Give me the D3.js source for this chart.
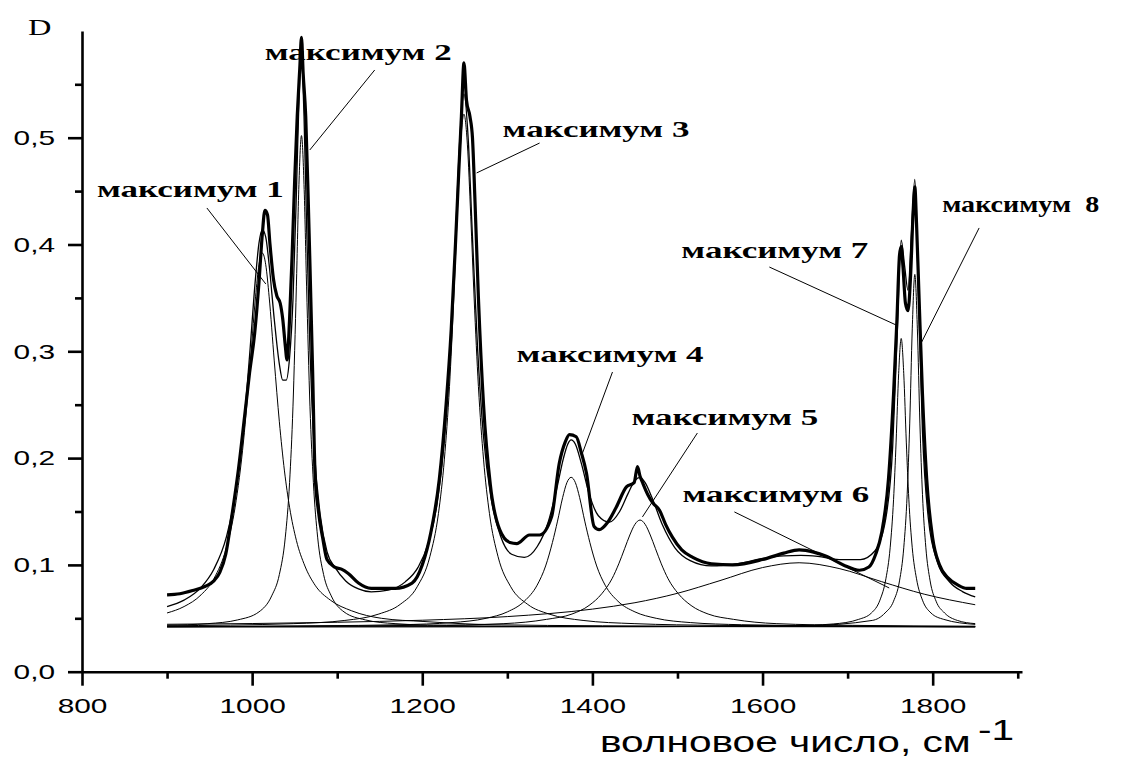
<!DOCTYPE html>
<html>
<head>
<meta charset="utf-8">
<script src="https://cdn.jsdelivr.net/npm/d3@7"></script>
<style>
  body { margin: 0; background: #fff; }
  text { fill: #000; }
</style>
</head>
<body>
<div id="chart"></div>
<script>

// ---- data ----

// measured spectrum (thick line)
var wnMeasured = [900, 915, 930, 945, 955, 962, 969, 976, 984, 991, 997, 1003, 1008, 1012, 1015, 1018, 1021, 1025, 1029, 1033, 1036, 1039, 1041, 1044, 1047, 1050, 1053, 1056, 1058, 1060, 1063, 1066, 1068, 1071, 1074, 1078, 1083, 1088, 1097, 1105, 1113, 1125, 1140, 1168, 1188, 1200, 1210, 1220, 1228, 1234, 1239, 1243, 1246, 1249, 1252, 1256, 1259, 1262, 1266, 1272, 1280, 1291, 1303, 1311, 1326, 1338, 1352, 1361, 1368, 1373, 1381, 1387, 1393, 1402, 1408, 1418, 1428, 1440, 1449, 1453, 1456, 1459, 1465, 1471, 1479, 1486, 1494, 1505, 1518, 1540, 1565, 1600, 1625, 1643, 1660, 1675, 1695, 1714, 1725, 1733, 1740, 1748, 1754, 1758, 1761, 1763, 1765, 1768, 1771, 1774, 1777, 1779, 1781, 1784, 1788, 1793, 1800, 1808, 1818, 1830, 1840, 1850]
var dMeasured = [0.072, 0.073, 0.076, 0.080, 0.085, 0.093, 0.110, 0.145, 0.190, 0.238, 0.280, 0.317, 0.364, 0.410, 0.432, 0.428, 0.400, 0.368, 0.352, 0.345, 0.330, 0.305, 0.292, 0.330, 0.390, 0.460, 0.520, 0.565, 0.594, 0.560, 0.520, 0.440, 0.380, 0.285, 0.185, 0.150, 0.125, 0.105, 0.098, 0.096, 0.092, 0.083, 0.078, 0.078, 0.083, 0.100, 0.130, 0.180, 0.250, 0.320, 0.400, 0.470, 0.520, 0.570, 0.535, 0.520, 0.500, 0.440, 0.350, 0.250, 0.175, 0.133, 0.121, 0.120, 0.128, 0.128, 0.145, 0.195, 0.215, 0.222, 0.220, 0.205, 0.186, 0.136, 0.133, 0.140, 0.154, 0.173, 0.177, 0.192, 0.183, 0.177, 0.166, 0.158, 0.151, 0.138, 0.126, 0.114, 0.107, 0.101, 0.100, 0.105, 0.111, 0.114, 0.112, 0.108, 0.100, 0.095, 0.098, 0.110, 0.130, 0.180, 0.260, 0.330, 0.390, 0.398, 0.380, 0.345, 0.338, 0.370, 0.430, 0.454, 0.420, 0.350, 0.260, 0.180, 0.125, 0.100, 0.088, 0.081, 0.078, 0.078]

// fitted envelope (thin line following the spectrum)
var wnFit = [900, 920, 940, 955, 970, 980, 990, 997, 1004, 1008, 1012, 1016, 1020, 1026, 1032, 1036, 1040, 1044, 1048, 1052, 1055, 1058, 1061, 1064, 1068, 1073, 1080, 1088, 1098, 1110, 1125, 1140, 1160, 1180, 1195, 1207, 1217, 1226, 1233, 1239, 1244, 1249, 1254, 1259, 1265, 1272, 1281, 1292, 1305, 1320, 1335, 1348, 1358, 1366, 1371, 1375, 1380, 1387, 1396, 1407, 1420, 1432, 1442, 1450, 1456, 1462, 1470, 1482, 1497, 1515, 1540, 1570, 1600, 1625, 1645, 1665, 1690, 1715, 1732, 1745, 1753, 1758, 1763, 1767, 1771, 1775, 1779, 1783, 1788, 1795, 1805, 1820, 1835, 1850]
var dFit = [0.061, 0.067, 0.079, 0.096, 0.127, 0.165, 0.230, 0.296, 0.369, 0.401, 0.414, 0.407, 0.381, 0.330, 0.288, 0.273, 0.273, 0.294, 0.348, 0.447, 0.534, 0.573, 0.520, 0.419, 0.300, 0.209, 0.147, 0.1125, 0.097, 0.085, 0.0775, 0.0747, 0.0763, 0.0841, 0.0977, 0.120, 0.155, 0.216, 0.300, 0.405, 0.497, 0.541, 0.499, 0.407, 0.303, 0.220, 0.162, 0.127, 0.110, 0.107, 0.117, 0.140, 0.171, 0.200, 0.213, 0.217, 0.213, 0.195, 0.167, 0.146, 0.140, 0.150, 0.167, 0.179, 0.182, 0.177, 0.163, 0.138, 0.116, 0.104, 0.099, 0.101, 0.106, 0.1085, 0.109, 0.108, 0.105, 0.105, 0.113, 0.144, 0.211, 0.310, 0.404, 0.380, 0.357, 0.410, 0.461, 0.363, 0.225, 0.143, 0.104, 0.084, 0.075, 0.070]

// the eight component bands, [wavenumber, D]
var band1 = [[900, 0.055], [920, 0.061], [940, 0.072], [955, 0.087], [970, 0.117], [980, 0.154], [990, 0.217], [997, 0.281], [1004, 0.351], [1008, 0.381], [1012, 0.392], [1016, 0.381], [1020, 0.351], [1026, 0.291], [1032, 0.234], [1038, 0.188], [1044, 0.154], [1052, 0.123], [1062, 0.099], [1074, 0.081], [1092, 0.067], [1117, 0.057], [1152, 0.050], [1202, 0.047], [1282, 0.044], [1412, 0.043], [1612, 0.0425], [1850, 0.042]]
var band2 = [[900, 0.0435], [948, 0.045], [983, 0.0485], [1008, 0.056], [1023, 0.071], [1032, 0.091], [1039, 0.126], [1044, 0.177], [1048, 0.248], [1052, 0.361], [1055, 0.456], [1058, 0.502], [1061, 0.456], [1064, 0.361], [1068, 0.248], [1072, 0.177], [1077, 0.126], [1084, 0.091], [1093, 0.071], [1108, 0.056], [1133, 0.0485], [1168, 0.045], [1228, 0.0433], [1358, 0.0424], [1850, 0.042]]
var band3 = [[900, 0.043], [1049, 0.045], [1109, 0.048], [1149, 0.054], [1174, 0.063], [1194, 0.0795], [1209, 0.108], [1219, 0.148], [1226, 0.199], [1232, 0.267], [1237, 0.349], [1241, 0.426], [1245, 0.494], [1249, 0.522], [1253, 0.494], [1257, 0.426], [1261, 0.349], [1266, 0.267], [1272, 0.199], [1279, 0.148], [1289, 0.108], [1304, 0.0795], [1324, 0.063], [1349, 0.054], [1389, 0.048], [1449, 0.045], [1549, 0.0434], [1850, 0.0423]]
var band4 = [[900, 0.042], [1075, 0.043], [1175, 0.044], [1235, 0.046], [1275, 0.050], [1300, 0.056], [1320, 0.066], [1335, 0.081], [1345, 0.099], [1353, 0.121], [1359, 0.141], [1365, 0.163], [1370, 0.177], [1375, 0.182], [1380, 0.177], [1385, 0.163], [1391, 0.141], [1397, 0.121], [1405, 0.099], [1415, 0.081], [1430, 0.066], [1450, 0.056], [1475, 0.050], [1515, 0.046], [1575, 0.044], [1675, 0.043], [1850, 0.042]]
var band5 = [[900, 0.0423], [1206, 0.0434], [1296, 0.045], [1346, 0.049], [1376, 0.054], [1396, 0.062], [1411, 0.073], [1423, 0.087], [1431, 0.101], [1438, 0.1155], [1444, 0.128], [1450, 0.138], [1456, 0.142], [1462, 0.138], [1468, 0.128], [1474, 0.1155], [1481, 0.101], [1489, 0.087], [1501, 0.073], [1516, 0.062], [1536, 0.054], [1566, 0.049], [1616, 0.045], [1706, 0.0434], [1850, 0.0426]]
var band6 = [[900, 0.0444], [1000, 0.0451], [1100, 0.0463], [1200, 0.0482], [1300, 0.0516], [1400, 0.0586], [1450, 0.0646], [1500, 0.0734], [1550, 0.0853], [1600, 0.0975], [1643, 0.102], [1690, 0.0966], [1740, 0.0843], [1790, 0.0726], [1850, 0.0627]]
var band7 = [[900, 0.042], [1463, 0.0422], [1633, 0.043], [1683, 0.0447], [1713, 0.049], [1728, 0.055], [1738, 0.067], [1745, 0.087], [1750, 0.116], [1754, 0.161], [1757, 0.215], [1760, 0.279], [1763, 0.312], [1766, 0.279], [1769, 0.215], [1772, 0.161], [1776, 0.116], [1781, 0.087], [1788, 0.067], [1798, 0.055], [1813, 0.049], [1850, 0.0443]]
var band8 = [[900, 0.042], [1479, 0.0422], [1649, 0.043], [1729, 0.048], [1744, 0.055], [1754, 0.066], [1761, 0.085], [1766, 0.116], [1770, 0.166], [1773, 0.232], [1776, 0.321], [1779, 0.372], [1782, 0.321], [1785, 0.232], [1788, 0.166], [1792, 0.116], [1797, 0.085], [1804, 0.066], [1814, 0.055], [1829, 0.048], [1850, 0.045]]

// axis ticks
var xMajor = [800, 1000, 1200, 1400, 1600, 1800]
var xMinor = [900, 1100, 1300, 1500, 1700, 1900]
var yMajor = [0, 0.1, 0.2, 0.3, 0.4, 0.5]
var yMinor = [0.05, 0.15, 0.25, 0.35, 0.45, 0.55]

// peak labels and their leader lines, in data units
var peakNames = ["максимум 1", "максимум 2", "максимум 3", "максимум 4", "максимум 5", "максимум 6", "максимум 7", "максимум  8"]
var labelAt = [[817.6, 0.4445], [1014.9, 0.5727], [1294.4, 0.5006], [1310.9, 0.2900], [1445.9, 0.2310], [1505.8, 0.1589], [1504.6, 0.3874], [1811.2, 0.4305]]
var leaderFrom = [[946.8, 0.4342], [1144.1, 0.5634], [1337.9, 0.4950], [1423.6, 0.2806], [1523.4, 0.2235], [1566.9, 0.1496], [1608.0, 0.3789], [1854.6, 0.4155]]
var leaderTo = [[1016.1, 0.3630], [1067.8, 0.4885], [1263.9, 0.4670], [1388.4, 0.2048], [1458.8, 0.1449], [1748.9, 0.0784], [1757.1, 0.3246], [1786.5, 0.3078]]


// ---- drawing ----

var width = 1145, height = 761

var svg = d3.select("#chart").append("svg")
  .attr("width", width)
  .attr("height", height)

var x = d3.scaleLinear().domain([800, 1905]).range([82, 1022])
var y = d3.scaleLinear().domain([0, 0.6]).range([671.7, 30.9])

// the scan is wider than it is tall, so every text is stretched sideways
var widen = function (sel, k) {
  sel.each(function (d, i) {
    var f = typeof k === "function" ? k(d, i) : k
    var w = this.getComputedTextLength()
    d3.select(this)
      .attr("textLength", w * f)
      .attr("lengthAdjust", "spacingAndGlyphs")
  })
}

var comma = function (d) {
  return d3.format(".1f")(d).replace(".", ",")
}

// x axis
var gx = svg.append("g")
  .attr("transform", `translate(0,${y(0)})`)
  .call(d3.axisBottom(x).tickValues(xMajor).tickSize(14).tickSizeOuter(0).tickPadding(12).tickFormat(d3.format("d")))
gx.append("g")
  .call(d3.axisBottom(x).tickValues(xMinor).tickSize(7).tickFormat(""))
  .call(g => g.select(".domain").remove())

// y axis
var gy = svg.append("g")
  .attr("transform", `translate(${x(800)},0)`)
  .call(d3.axisLeft(y).tickValues(yMajor).tickSize(14).tickSizeOuter(0).tickPadding(13).tickFormat(comma))
gy.append("g")
  .call(d3.axisLeft(y).tickValues(yMinor).tickSize(7).tickFormat(""))
  .call(g => g.select(".domain").remove())

svg.selectAll(".domain, .tick line")
  .attr("stroke", "#000")
  .attr("stroke-width", 2.6)

svg.selectAll(".tick text")
  .attr("font-family", "'Liberation Sans', Arial, sans-serif")
  .attr("font-size", 21)
  .attr("fill", "#000")
  .call(widen, 1.42)

// curves
var line = d3.line()
  .x(d => x(d[0]))
  .y(d => y(d[1]))
  .curve(d3.curveMonotoneX)

var bands = [band1, band2, band3, band4, band5, band6, band7, band8]

svg.append("g")
  .selectAll("path")
  .data(bands)
  .join("path")
  .attr("d", line)
  .attr("fill", "none")
  .attr("stroke", "#000")
  .attr("stroke-width", 1)

svg.append("path")
  .attr("d", line(d3.zip(wnFit, dFit)))
  .attr("fill", "none")
  .attr("stroke", "#000")
  .attr("stroke-width", 1.3)

svg.append("path")
  .attr("d", line(d3.zip(wnMeasured, dMeasured)))
  .attr("fill", "none")
  .attr("stroke", "#000")
  .attr("stroke-width", 3.2)
  .attr("stroke-linejoin", "round")

// leader lines and labels
svg.append("g")
  .selectAll("line")
  .data(d3.range(peakNames.length))
  .join("line")
  .attr("x1", i => x(leaderFrom[i][0]))
  .attr("y1", i => y(leaderFrom[i][1]))
  .attr("x2", i => x(leaderTo[i][0]))
  .attr("y2", i => y(leaderTo[i][1]))
  .attr("stroke", "#000")
  .attr("stroke-width", 1)

svg.append("g")
  .selectAll("text")
  .data(d3.range(peakNames.length))
  .join("text")
  .attr("x", i => x(labelAt[i][0]))
  .attr("y", i => y(labelAt[i][1]))
  .attr("font-family", "'Liberation Serif', 'Times New Roman', serif")
  .attr("font-weight", "bold")
  .attr("font-size", 23)
  .style("white-space", "pre")
  .text(i => peakNames[i])
  .call(widen, (d, i) => i === 7 ? 1.22 : 1.52)

// axis names
svg.append("text")
  .attr("x", 28)
  .attr("y", 35)
  .attr("font-family", "'Liberation Serif', 'Times New Roman', serif")
  .attr("font-size", 24)
  .text("D")
  .call(widen, 1.35)

svg.append("text")
  .attr("x", 600)
  .attr("y", 752)
  .attr("font-family", "'Liberation Sans', Arial, sans-serif")
  .attr("font-size", 29)
  .text("волновое число, см")
  .call(widen, 1.4)

svg.append("text")
  .attr("x", 978)
  .attr("y", 740)
  .attr("font-family", "'Liberation Sans', Arial, sans-serif")
  .attr("font-size", 29)
  .text("-1")
  .call(widen, 1.4)

</script>
</body>
</html>
